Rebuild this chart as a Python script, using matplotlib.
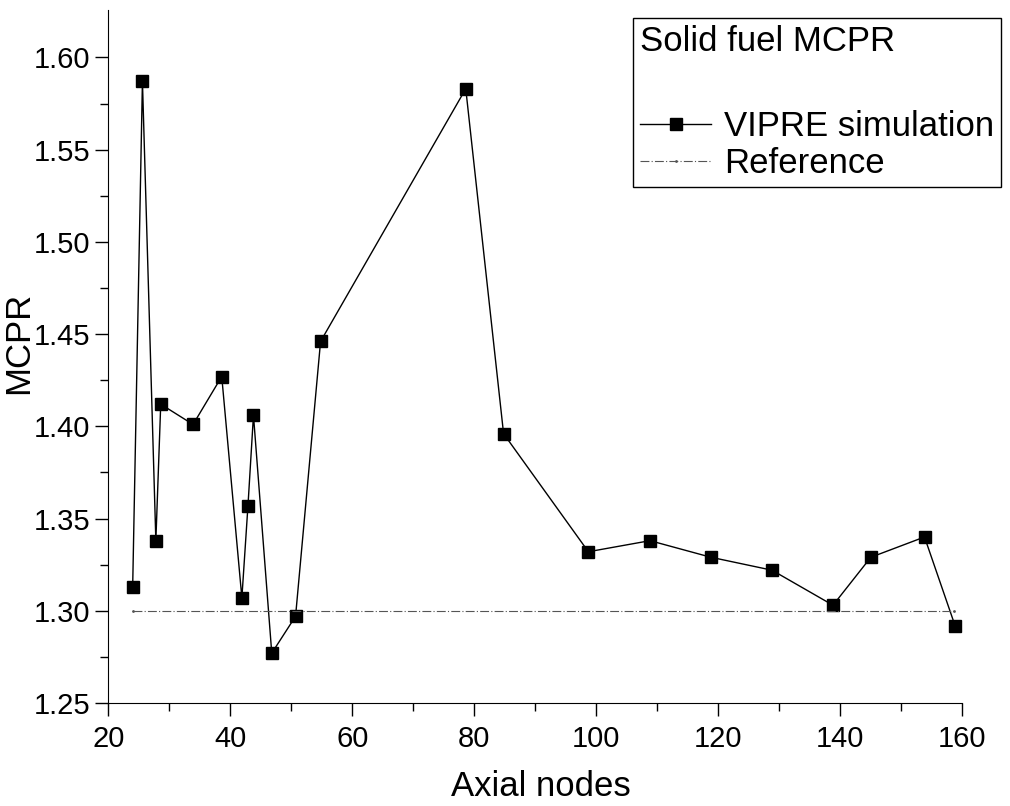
import matplotlib
matplotlib.use('Agg')
import matplotlib.pyplot as plt

plt.rcParams['font.family'] = ['Liberation Sans', 'DejaVu Sans']

# VIPRE simulation results (axial node, MCPR)
nodes = [24, 25.6, 27.8, 28.6, 33.9, 38.6, 41.9, 42.9, 43.8, 46.8, 50.7,
         54.8, 78.6, 84.8, 98.7, 108.8, 118.8, 128.8, 138.8, 145.0, 153.8, 158.8]
mcpr = [1.313, 1.587, 1.338, 1.412, 1.401, 1.427, 1.307, 1.357, 1.406, 1.277, 1.297,
        1.446, 1.583, 1.396, 1.332, 1.338, 1.329, 1.322, 1.303, 1.329, 1.340, 1.292]

# reference limit
ref_nodes = [24, 158.7]
ref_mcpr = [1.30, 1.30]

fig = plt.figure(figsize=(10.1, 8.06), dpi=100)
ax = fig.add_axes([0.1072, 0.1278, 0.8456, 0.8598])

ax.plot(nodes, mcpr, color='black', lw=1.0, marker='s', markersize=8.5,
        label='VIPRE simulation')
ax.plot(ref_nodes, ref_mcpr, color='#555555', lw=0.8, linestyle=(0, (8, 2, 1, 2)),
        marker='.', markersize=2, label='Reference')

ax.set_xlim(20, 160)
ax.set_ylim(1.25, 1.6257)
ax.set_xticks(range(20, 161, 20))
ax.set_xticks(range(30, 160, 20), minor=True)
ax.set_yticks([1.25, 1.30, 1.35, 1.40, 1.45, 1.50, 1.55, 1.60])
ax.set_yticks([1.275, 1.325, 1.375, 1.425, 1.475, 1.525, 1.575], minor=True)
ax.yaxis.set_major_formatter(matplotlib.ticker.FormatStrFormatter('%.2f'))

ax.spines['top'].set_visible(False)
ax.spines['right'].set_visible(False)
ax.tick_params(which='major', direction='out', length=9.4, width=1.0, labelsize=21, pad=3.5)
ax.tick_params(axis='x', which='major', pad=6.5)
ax.tick_params(which='minor', direction='out', length=5.5, width=1.0)

ax.set_xlabel('Axial nodes', fontsize=25)
ax.set_ylabel('MCPR', fontsize=25)
ax.xaxis.set_label_coords(0.507, -0.097)
ax.yaxis.set_label_coords(-0.086, 0.52)

leg = ax.legend(title='Solid fuel MCPR\n', fontsize=25, title_fontsize=25,
                alignment='left', loc='upper left',
                bbox_to_anchor=(0.6264, 0.9773), bbox_transform=fig.transFigure,
                fancybox=False, edgecolor='black', framealpha=1,
                handlelength=2.07, handletextpad=0.35, labelspacing=0.1,
                borderpad=0.2, borderaxespad=0)
leg.get_title().set_linespacing(1.6)
leg.get_frame().set_linewidth(1.0)

fig.savefig('out.png', dpi=100)
